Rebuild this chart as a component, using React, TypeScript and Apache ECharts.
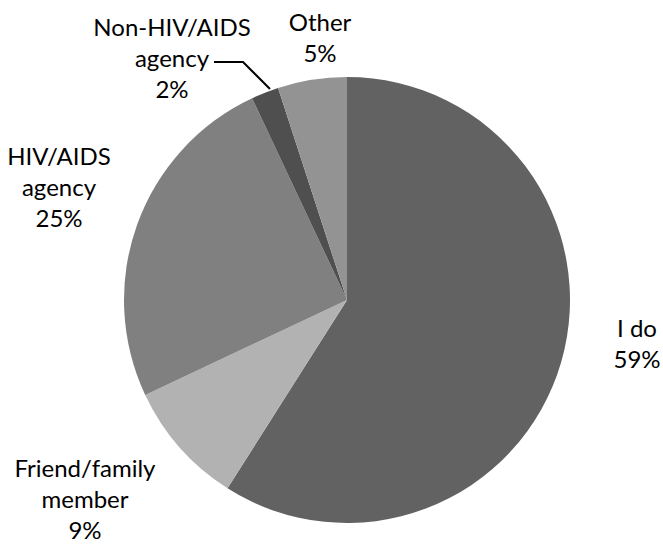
import React, { useEffect, useRef } from "react";
import * as echarts from "echarts";

const categories = ["I do", "Friend/family\nmember", "HIV/AIDS\nagency", "Non-HIV/AIDS\nagency", "Other"];
const values = [59, 9, 25, 2, 5];
const colors = ["#626262", "#b2b2b2", "#808080", "#4f4f4f", "#939393"];

// label anchor positions (layout only)
const labelPos: [number, number][] = [
  [637, 343],
  [85, 498],
  [59, 186],
  [172, 57],
  [320, 37],
];

export default function App() {
  const ref = useRef<HTMLDivElement>(null);
  useEffect(() => {
    if (!ref.current) return;
    const chart = echarts.init(ref.current, null, { renderer: "svg" });
    chart.setOption({
      animation: false,
      backgroundColor: "#ffffff",
      series: [
        {
          type: "pie",
          center: [347, 300],
          radius: 223,
          startAngle: 90,
          clockwise: true,
          avoidLabelOverlap: false,
          percentPrecision: 0,
          itemStyle: { borderWidth: 0 },
          label: {
            show: true,
            formatter: "{b}\n{d}%",
            fontFamily: "Lato",
            fontSize: 24,
            lineHeight: 31,
            color: "#000000",
            align: "center",
          },
          labelLine: { show: false },
          labelLayout: (params: any) => {
            const p = labelPos[params.dataIndex];
            const res: any = { x: p[0], y: p[1], align: "center", verticalAlign: "middle" };
            if (params.dataIndex === 3) {
              res.labelLinePoints = [
                [270, 89],
                [243, 62],
                [214, 62],
              ];
            }
            return res;
          },
          data: categories.map((c, i) => ({
            name: c,
            value: values[i],
            itemStyle: { color: colors[i] },
            labelLine:
              i === 3
                ? { show: true, lineStyle: { color: "#000000", width: 2 } }
                : { show: false },
          })),
        },
      ],
    });
    return () => chart.dispose();
  }, []);
  return (
    <div
      ref={ref}
      style={{ position: "fixed", left: 0, top: 0, width: 663, height: 544 }}
    />
  );
}
